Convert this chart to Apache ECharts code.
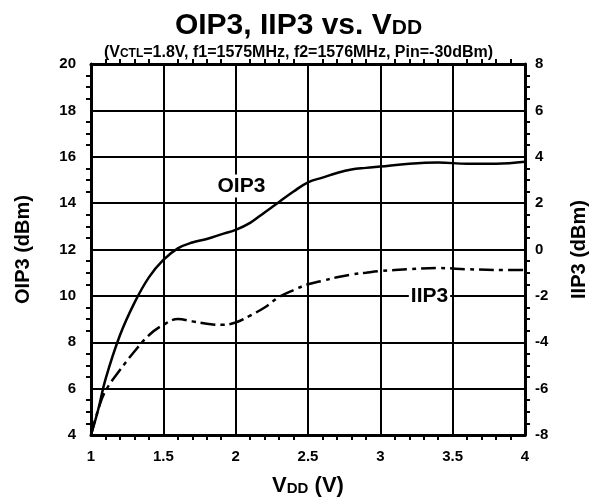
<!DOCTYPE html>
<html><head><meta charset="utf-8">
<script src="https://cdn.jsdelivr.net/npm/echarts@6/dist/echarts.min.js"></script>
<style>html,body{margin:0;padding:0;background:#fff}#c{width:597px;height:502px}</style>
</head><body><div id="c"></div>
<script>
const vdd = [1.0, 1.05, 1.1, 1.2, 1.3, 1.4, 1.5, 1.6, 1.7, 1.8, 1.9, 2.0, 2.1, 2.2, 2.3, 2.4, 2.5, 2.6, 2.7, 2.8, 2.9, 3.0, 3.2, 3.4, 3.6, 3.8, 4.0];
const oip3 = [4.0, 5.1, 6.4, 8.3, 9.7, 10.8, 11.55, 12.05, 12.3, 12.45, 12.65, 12.85, 13.15, 13.6, 14.05, 14.5, 14.9, 15.1, 15.3, 15.45, 15.52, 15.58, 15.7, 15.75, 15.7, 15.7, 15.78];
const iip3 = [-8.0, -6.9, -6.1, -5.2, -4.4, -3.7, -3.25, -3.0, -3.1, -3.2, -3.25, -3.15, -2.85, -2.5, -2.05, -1.75, -1.5, -1.35, -1.2, -1.08, -1.0, -0.93, -0.85, -0.8, -0.85, -0.88, -0.88];
const xTicks = [1, 1.5, 2, 2.5, 3, 3.5, 4];
const leftTicks = [4, 6, 8, 10, 12, 14, 16, 18, 20];
const rightTicks = [-8, -6, -4, -2, 0, 2, 4, 6, 8];

const FF = 'Liberation Sans, Arial, sans-serif';
const chart = echarts.init(document.getElementById('c'));
const lbl = {color:'#000', fontFamily: FF, fontWeight:'bold', fontSize:15};
function tok(size, pb){return {fontFamily:FF,fontWeight:'bold',fontSize:size,lineHeight:size,color:'#000',verticalAlign:'bottom',padding:[0,0,pb||0,0]};}
chart.setOption({
  animation:false,
  backgroundColor:'#fff',
  title:[{
    text:'{a|OIP3, IIP3 vs. V}{b|DD}', left:'center', top:6,
    textStyle:{rich:{a:tok(30),b:tok(21,2)}}
  },{
    text:'{a|(V}{b|CTL}{a|=1.8V, f1=1575MHz, f2=1576MHz, Pin=-30dBm)}', left:'center', top:40,
    textStyle:{rich:{a:tok(16),b:tok(12,1)}}
  }],
  grid:{left:91, right:69, top:64, bottom:64},
  xAxis:[{
    type:'value', min:1, max:4, interval:0.5, position:'bottom',
    axisLine:{show:true,onZero:false,lineStyle:{color:'#000',width:3}},
    axisTick:{show:false},
    minorTick:{show:true,splitNumber:5,length:5,lineStyle:{color:'#000',width:2}},
    axisLabel:Object.assign({margin:14, formatter:v=>String(v)}, lbl),
    splitLine:{show:true,lineStyle:{color:'#000',width:2}},
    name:'{a|V}{b|DD}{a| (V)}', nameLocation:'middle', nameGap:40,
    nameTextStyle:{rich:{a:tok(22),b:tok(15,1)}}
  },{
    type:'value', min:1, max:4, interval:0.5, position:'top',
    axisLine:{show:true,onZero:false,lineStyle:{color:'#000',width:3}},
    axisTick:{show:false},
    minorTick:{show:true,splitNumber:5,length:5,lineStyle:{color:'#000',width:2}},
    axisLabel:{show:false}, splitLine:{show:false}
  }],
  yAxis:[{
    type:'value', min:4, max:20, interval:2, position:'left',
    axisLine:{show:true,onZero:false,lineStyle:{color:'#000',width:3}},
    axisTick:{show:false},
    minorTick:{show:true,splitNumber:4,length:5,lineStyle:{color:'#000',width:2}},
    axisLabel:Object.assign({margin:15}, lbl),
    splitLine:{show:true,lineStyle:{color:'#000',width:2}},
    name:'OIP3 (dBm)', nameLocation:'middle', nameGap:58,
    nameTextStyle:{fontFamily:FF,fontWeight:'bold',fontSize:20,color:'#000'}
  },{
    type:'value', min:-8, max:8, interval:2, position:'right',
    axisLine:{show:true,onZero:false,lineStyle:{color:'#000',width:3}},
    axisTick:{show:false},
    minorTick:{show:true,splitNumber:4,length:5,lineStyle:{color:'#000',width:2}},
    axisLabel:Object.assign({margin:10}, lbl),
    splitLine:{show:false},
    name:'IIP3 (dBm)', nameLocation:'middle', nameGap:44, nameRotate:90,
    nameTextStyle:{fontFamily:FF,fontWeight:'bold',fontSize:20,color:'#000'}
  }],
  series:[{
    name:'OIP3', type:'line', xAxisIndex:0, yAxisIndex:0, smooth:0.4, symbol:'none',
    data: vdd.map((x,i)=>[x, oip3[i]]),
    lineStyle:{color:'#000',width:2.5},
    markPoint:{symbol:'circle',symbolSize:0,silent:true,
      label:{show:true,formatter:'OIP3',fontFamily:FF,fontWeight:'bold',fontSize:21,color:'#000',backgroundColor:'#fff',padding:[1,2]},
      data:[{coord:[2.04,14.74]}]}
  },{
    name:'IIP3', type:'line', xAxisIndex:0, yAxisIndex:1, smooth:0.4, symbol:'none',
    data: vdd.map((x,i)=>[x, iip3[i]]),
    lineStyle:{color:'#000',width:2.5,type:[15,5,4,5]},
    markPoint:{symbol:'circle',symbolSize:0,silent:true,
      label:{show:true,formatter:'IIP3',fontFamily:FF,fontWeight:'bold',fontSize:21,color:'#000',backgroundColor:'#fff',padding:[1,2]},
      data:[{coord:[3.34,-2.0]}]}
  }]
});
</script></body></html>
